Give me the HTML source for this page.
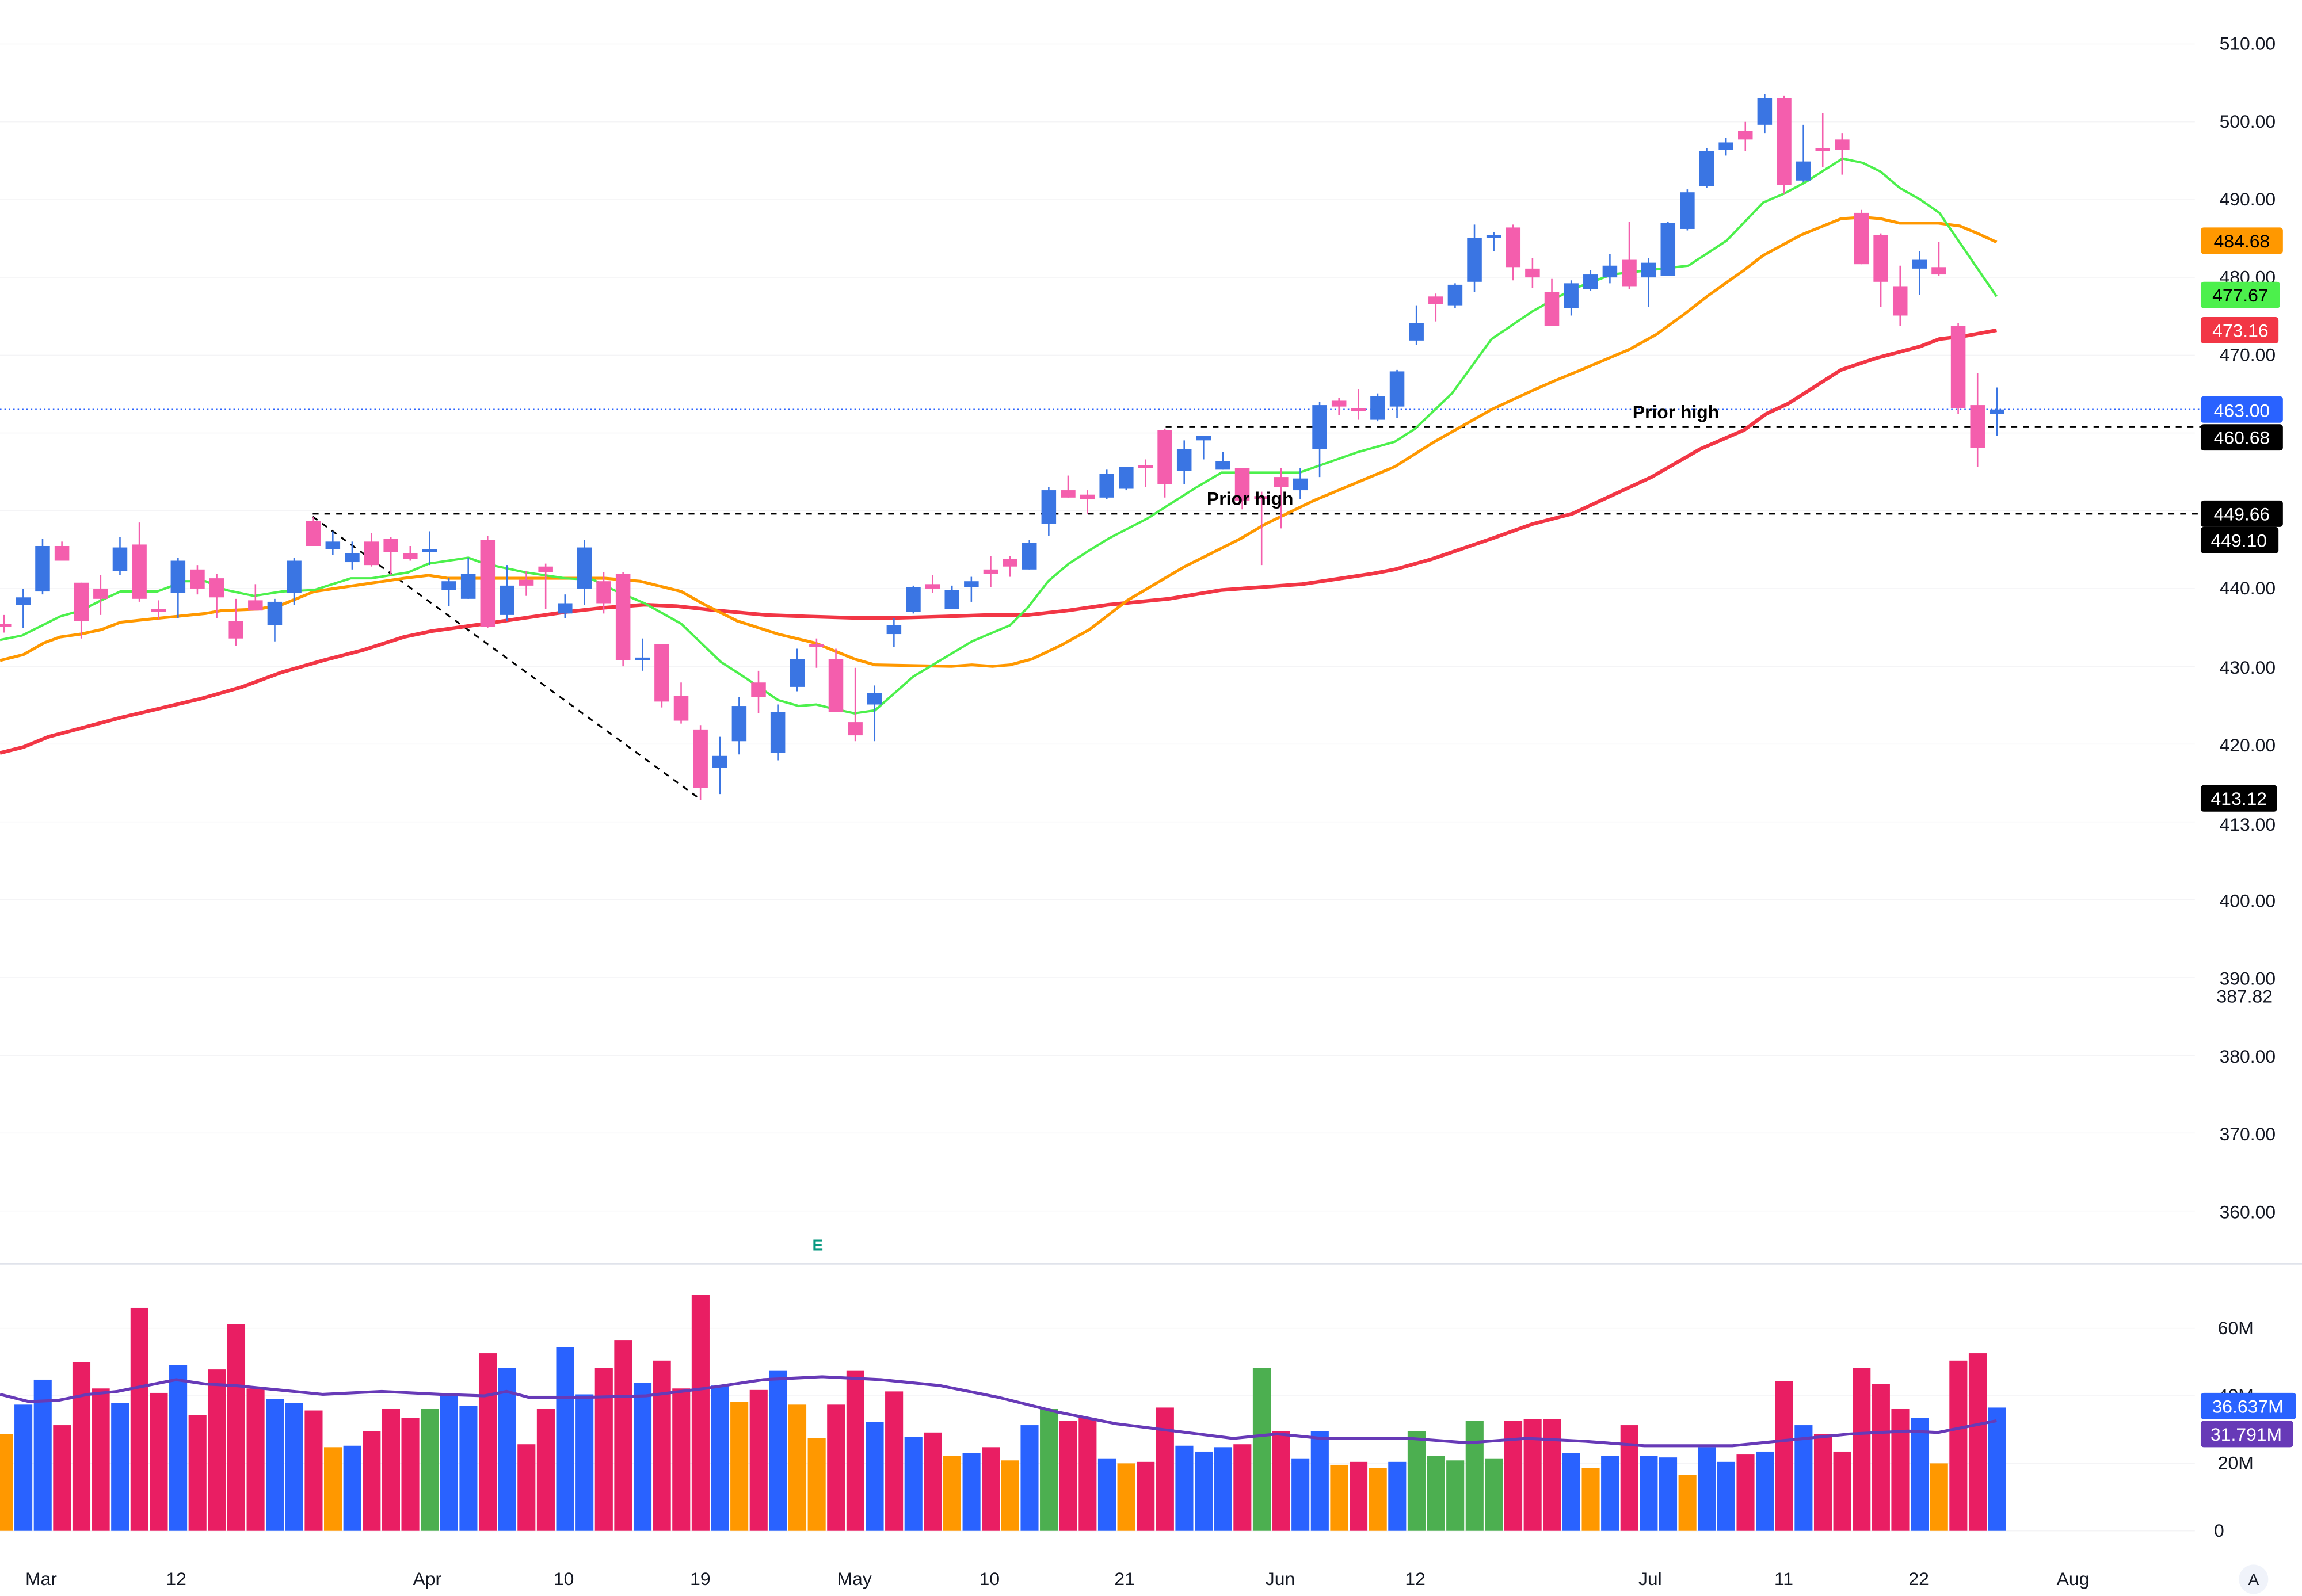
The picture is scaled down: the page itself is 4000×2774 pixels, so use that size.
<!DOCTYPE html>
<html><head><meta charset="utf-8"><style>
html,body{margin:0;padding:0;background:#fff;width:4000px;height:2774px;overflow:hidden}
svg{display:block}
text{font-family:"Liberation Sans",sans-serif}
</style></head><body>
<svg id="s" width="4000" height="2774" viewBox="0 0 1568 1087.4" xmlns="http://www.w3.org/2000/svg">
<g stroke="#f4f4f6" stroke-width="0.6">
<line x1="0" y1="30" x2="1495" y2="30"/><line x1="0" y1="83" x2="1495" y2="83"/><line x1="0" y1="136" x2="1495" y2="136"/><line x1="0" y1="189" x2="1495" y2="189"/><line x1="0" y1="242" x2="1495" y2="242"/><line x1="0" y1="295" x2="1495" y2="295"/><line x1="0" y1="348" x2="1495" y2="348"/><line x1="0" y1="401" x2="1495" y2="401"/><line x1="0" y1="454" x2="1495" y2="454"/><line x1="0" y1="507" x2="1495" y2="507"/><line x1="0" y1="560" x2="1495" y2="560"/><line x1="0" y1="613" x2="1495" y2="613"/><line x1="0" y1="666" x2="1495" y2="666"/><line x1="0" y1="719" x2="1495" y2="719"/><line x1="0" y1="772" x2="1495" y2="772"/><line x1="0" y1="825" x2="1495" y2="825"/>
<line x1="0" y1="905" x2="1495" y2="905"/><line x1="0" y1="951" x2="1495" y2="951"/><line x1="0" y1="997" x2="1495" y2="997"/><line x1="0" y1="1043" x2="1495" y2="1043"/>
</g>
<line x1="0" y1="861" x2="1568" y2="861" stroke="#e0e3eb" stroke-width="1"/>
<g id="vol"></g>
<polyline fill="none" stroke="#673ab7" stroke-width="2" points="0,950 20,955 40,954 60,950 80,948 100,944 120,940 140,943 160,944 180,946 220,950 260,948 300,950 330,951 345,948 360,952 400,952 440,951 480,946 520,940 560,938 600,940 640,944 680,952 720,962 760,970 800,975 840,980 870,977 900,980 960,980 1000,983 1040,980 1080,982 1120,985 1180,985 1220,981 1260,977 1300,975 1320,976 1345,971 1360,968"/>
<line x1="0" y1="279" x2="1500" y2="279" stroke="#2962ff" stroke-width="1" stroke-dasharray="1,2"/>
<g stroke="#000" stroke-width="1.2" stroke-dasharray="4,4" fill="none">
<line x1="794" y1="291" x2="1500" y2="291"/>
<line x1="213" y1="350" x2="1500" y2="350"/>
<line x1="213" y1="352" x2="475" y2="543"/>
</g>
<polyline fill="none" stroke="#f23645" stroke-width="2.5" points="0,513 16,509 33,502 82,489 137,476 165,468 192,458 220,450 247,443 275,434 294,430 330,425 385,417 412,414 439,412 461,413 489,416 522,419 549,420 582,421 610,421 645,420 673,419 700,419 727,416 755,412 796,408 832,402 887,398 934,391 950,388 975,381 1016,367 1044,357 1071,350 1125,325 1158,306 1188,293 1203,282 1218,275 1254,252 1278,244 1308,236 1321,231 1338,229 1360,225"/>
<polyline fill="none" stroke="#ff9800" stroke-width="2" points="0,450 16,446 30,438 41,434 55,432 69,429 82,424 110,421 140,418 151,416 176,415 192,412 214,403 248,398 275,394 292,392 305,394 385,394 412,394 436,396 464,403 480,412 502,423 530,432 555,438 582,449 596,453 648,454 662,453 676,454 688,453 703,449 722,440 742,429 768,409 790,396 807,386 845,367 862,357 895,341 950,318 977,301 1016,279 1044,266 1060,259 1077,252 1110,238 1128,228 1146,215 1164,201 1188,184 1201,174 1227,160 1254,149 1269,148 1281,149 1294,152 1320,152 1335,154 1347,159 1360,165"/>
<polyline fill="none" stroke="#4cf04c" stroke-width="1.6" points="0,436 15,433 41,420 55,416 69,409 82,403 107,403 126,396 140,396 154,402 173,406 192,403 214,402 239,394 253,394 278,390 292,384 319,380 330,384 358,390 385,394 404,395 418,402 439,411 464,425 491,451 505,460 530,477 544,481 556,480 568,483 582,486 596,484 622,461 662,437 688,426 700,414 714,396 728,384 742,375 755,367 782,353 796,344 815,332 832,322 885,322 925,308 950,301 964,292 989,268 1016,231 1044,212 1071,197 1098,187 1150,181 1176,164 1201,138 1215,132 1230,124 1255,108 1269,111 1281,117 1294,128 1308,136 1321,145 1360,202"/>
<g id="cdl"></g>
<g font-size="12.5" font-weight="bold" fill="#000">
<text x="1112" y="285">Prior high</text>
<text x="822" y="344">Prior high</text>
</g>
<text x="557" y="852" font-size="11" fill="#089981" text-anchor="middle" font-weight="bold">E</text>
<g font-size="12.5" fill="#131722" text-anchor="end">
<text x="1550" y="34">510.00</text><text x="1550" y="87">500.00</text><text x="1550" y="140">490.00</text><text x="1550" y="193">480.00</text><text x="1550" y="246">470.00</text><text x="1550" y="405">440.00</text><text x="1550" y="459">430.00</text><text x="1550" y="512">420.00</text><text x="1550" y="566">413.00</text><text x="1550" y="618">400.00</text><text x="1550" y="671">390.00</text><text x="1548" y="683">387.82</text><text x="1550" y="724">380.00</text><text x="1550" y="777">370.00</text><text x="1550" y="830">360.00</text>
<text x="1535" y="909">60M</text><text x="1535" y="955">40M</text><text x="1535" y="1001">20M</text><text x="1515" y="1047">0</text>
</g>
<g font-size="12.5" text-anchor="middle">
<rect x="1499" y="155" width="56" height="18" rx="2" fill="#ff9800"/><text x="1527" y="168.5" fill="#000">484.68</text>
<rect x="1499" y="192" width="54" height="18" rx="2" fill="#4cf04c"/><text x="1526" y="205.5" fill="#000">477.67</text>
<rect x="1499" y="216" width="53" height="18" rx="2" fill="#f23645"/><text x="1526" y="229.5" fill="#fff">473.16</text>
<rect x="1499" y="270" width="56" height="18" rx="2" fill="#2962ff"/><text x="1527" y="284" fill="#fff">463.00</text>
<rect x="1499" y="289" width="56" height="18" rx="2" fill="#000"/><text x="1527" y="302.5" fill="#fff">460.68</text>
<rect x="1499" y="341" width="56" height="18" rx="2" fill="#000"/><text x="1527" y="354.5" fill="#fff">449.66</text>
<rect x="1499" y="359" width="53" height="18" rx="2" fill="#000"/><text x="1525" y="372.5" fill="#fff">449.10</text>
<rect x="1499" y="535" width="52" height="18" rx="2" fill="#000"/><text x="1525" y="548.5" fill="#fff">413.12</text>
<rect x="1499" y="949" width="65" height="18" rx="2" fill="#2962ff"/><text x="1531" y="962.5" fill="#fff">36.637M</text>
<rect x="1499" y="968" width="63" height="18" rx="2" fill="#673ab7"/><text x="1530" y="981.5" fill="#fff">31.791M</text>
</g>
<g font-size="12.5" fill="#131722" text-anchor="middle">
<text x="28" y="1080">Mar</text><text x="120" y="1080">12</text><text x="291" y="1080">Apr</text><text x="384" y="1080">10</text><text x="477" y="1080">19</text><text x="582" y="1080">May</text><text x="674" y="1080">10</text><text x="766" y="1080">21</text><text x="872" y="1080">Jun</text><text x="964" y="1080">12</text><text x="1124" y="1080">Jul</text><text x="1215" y="1080">11</text><text x="1307" y="1080">22</text><text x="1412" y="1080">Aug</text>
</g>
<circle cx="1535" cy="1076" r="10" fill="#f0f3fa"/><text x="1535" y="1080" font-size="11" fill="#131722" text-anchor="middle">A</text>
</svg>
<script>
var NS="http://www.w3.org/2000/svg";
function X(i){return 29+13.18*i;}
var C=[[-2,'p',425,427,419,431],[-1,'b',407,412,401,428],[0,'b',372,403,367,405],[1,'p',372,382,369,382],[2,'p',397,423,397,435],[3,'p',401,408,392,419],[4,'b',373,389,366,392],[5,'p',371,408,356,410],[6,'p',415,417,409,422],[7,'b',382,404,380,421],[8,'p',388,401,385,405],[9,'p',394,407,391,421],[10,'p',423,435,408,440],[11,'p',409,416,398,416],[12,'b',410,426,408,437],[13,'b',382,404,380,412],[14,'p',355,372,352,372],[15,'b',369,374,362,378],[16,'b',377,383,369,388],[17,'p',369,385,363,386],[18,'p',367,376,366,392],[19,'p',377,381,372,382],[20,'b',374,376,362,385],[21,'b',396,402,394,413],[22,'b',391,408,380,408],[23,'p',368,427,365,428],[24,'b',399,419,385,423],[25,'p',395,399,389,406],[26,'p',386,390,384,415],[27,'b',411,418,405,421],[28,'b',373,401,368,412],[29,'p',396,411,390,418],[30,'p',391,450,390,454],[31,'b',448,450,435,457],[32,'p',439,478,439,482],[33,'p',474,491,465,493],[34,'p',497,537,494,545],[35,'b',515,523,502,541],[36,'b',481,505,475,514],[37,'p',465,475,457,486],[38,'b',485,513,480,518],[39,'b',449,468,442,471],[40,'p',439,441,435,455],[41,'p',449,485,442,485],[42,'p',492,501,455,505],[43,'b',472,480,467,505],[44,'b',426,432,421,441],[45,'b',400,417,399,418],[46,'p',398,401,392,404],[47,'b',402,415,399,415],[48,'b',396,400,393,410],[49,'p',388,391,379,400],[50,'p',381,386,379,393],[51,'b',370,388,368,388],[52,'b',334,357,332,365],[53,'p',334,339,324,339],[54,'p',337,340,334,350],[55,'b',323,339,320,340],[56,'b',318,333,318,334],[57,'p',317,319,313,332],[58,'p',293,330,292,339],[59,'b',306,321,300,330],[60,'b',297,300,297,313],[61,'b',314,320,308,320],[62,'p',319,341,319,347],[63,'p',338,340,335,385],[64,'p',325,332,319,360],[65,'b',326,334,319,340],[66,'b',276,306,274,325],[67,'p',273,277,271,283],[68,'p',278,280,265,286],[69,'b',270,286,268,287],[70,'b',253,277,252,285],[71,'b',220,232,208,235],[72,'p',202,207,200,219],[73,'b',194,208,193,210],[74,'b',162,192,153,199],[75,'b',160,162,158,171],[76,'p',155,182,153,191],[77,'p',183,189,176,196],[78,'p',199,222,190,222],[79,'b',193,210,191,215],[80,'b',187,197,184,198],[81,'b',181,189,173,193],[82,'p',177,195,151,197],[83,'b',179,189,176,209],[84,'b',152,188,151,188],[85,'b',131,156,129,157],[86,'b',103,127,101,128],[87,'b',97,102,94,106],[88,'p',89,95,83,103],[89,'b',67,85,64,91],[90,'p',67,126,65,132],[91,'b',110,123,85,124],[92,'p',101,103,77,114],[93,'p',95,102,91,119],[94,'p',145,180,143,180],[95,'p',160,192,159,209],[96,'p',195,215,181,222],[97,'b',177,183,171,201],[98,'p',182,187,165,188],[99,'p',222,278,220,282],[100,'p',276,305,254,318],[101,'b',279,282,264,297]];
var g=document.getElementById('cdl');
C.forEach(function(c){var x=X(c[0]);var col=c[1]=='b'?'#3a75e3':'#f45ead';
var l=document.createElementNS(NS,'line');l.setAttribute('x1',x);l.setAttribute('x2',x);l.setAttribute('y1',c[4]);l.setAttribute('y2',c[5]);l.setAttribute('stroke',col);l.setAttribute('stroke-width','1');g.appendChild(l);
var r=document.createElementNS(NS,'rect');var h=Math.max(c[3]-c[2],1.5);r.setAttribute('x',x-5);r.setAttribute('y',c[2]);r.setAttribute('width',10);r.setAttribute('height',h);r.setAttribute('fill',col);g.appendChild(r);});
var V="o977 b957 b940 r971 r928 r946 b956 r891 r949 b930 r964 r933 r902 r946 b953 b956 r961 o986 b985 r975 r960 r966 g960 b950 b958 r922 b932 r984 r960 b918 b950 r932 r913 b942 r927 r946 r882 b944 o955 r947 b934 o957 o980 r957 r934 b969 r948 b979 r976 o992 b990 r986 o995 b971 g960 r968 r966 b994 o997 r996 r959 b985 b989 b986 r984 g932 r975 b994 b975 o998 r996 o1000 b996 g975 g992 g995 g968 g994 r968 r967 r967 b990 o1000 b992 r971 b992 b993 o1005 b986 b996 r991 b989 r941 b971 r977 r989 r932 r943 r960 b966 o997 r927 r922 b959".split(' ');
var cm={o:'#ff9800',b:'#2962ff',r:'#e91e63',g:'#4caf50'};
var vg=document.getElementById('vol');
V.forEach(function(v,k){var i=k-2;var x=X(i);var y=+v.slice(1);var r=document.createElementNS(NS,'rect');r.setAttribute('x',x-6);r.setAttribute('y',y);r.setAttribute('width',12.2);r.setAttribute('height',1043-y);r.setAttribute('fill',cm[v[0]]);vg.appendChild(r);});
</script>
</body></html>
